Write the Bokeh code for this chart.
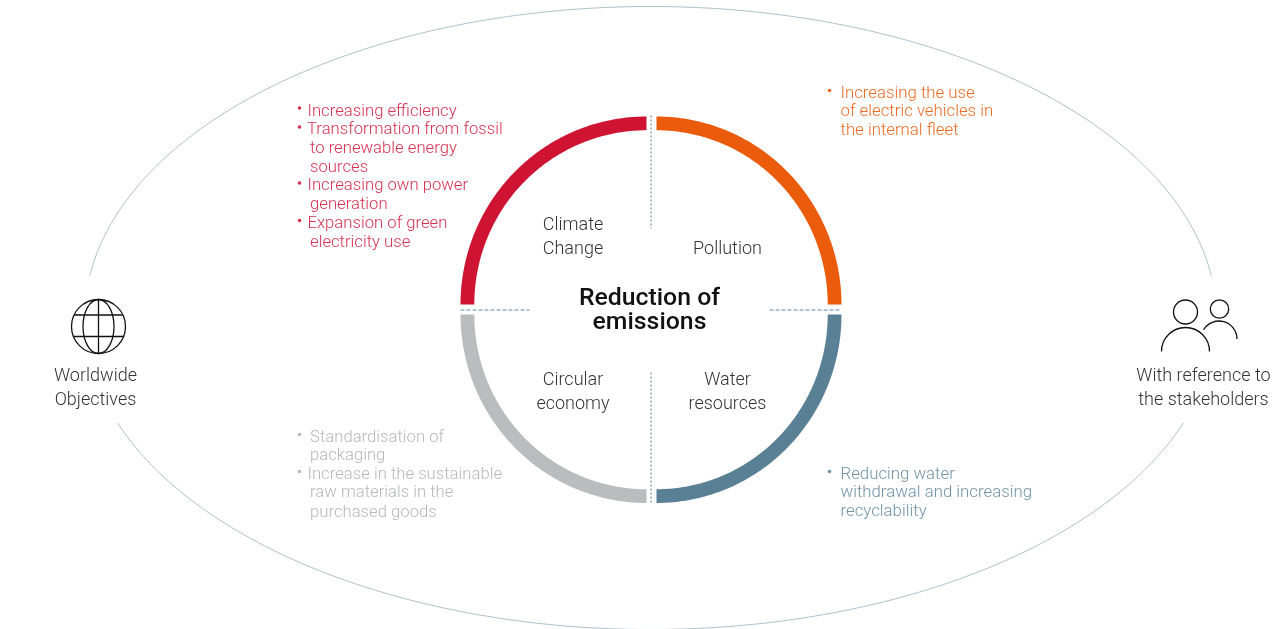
import numpy as np
from bokeh.plotting import figure
from bokeh.embed import file_html
from bokeh.resources import INLINE
from bokeh.core.properties import value

W, H = 1285, 629
FONT = "Roboto Light"
DARK = "#333333"

# Diagram content
title_lines = ["Reduction of", "emissions"]
side_left = ["Worldwide", "Objectives"]
side_right = ["With reference to", "the stakeholders"]
climate_label = ["Climate", "Change"]
pollution_label = ["Pollution"]
circular_label = ["Circular", "economy"]
water_label = ["Water", "resources"]

climate_items = ["Increasing efficiency", "Transformation from fossil", "to renewable energy", "sources",
                 "Increasing own power", "generation", "Expansion of green", "electricity use"]
pollution_items = ["Increasing the use", "of electric vehicles in", "the internal fleet"]
circular_items = ["Standardisation of", "packaging", "Increase in the sustainable",
                  "raw materials in the", "purchased goods"]
water_items = ["Reducing water", "withdrawal and increasing", "recyclability"]

# Layout (pixel coordinates, y measured from the top)
climate_x = [307, 306.5, 309.5, 309.5, 307, 309.5, 307, 309.5]
climate_y = [109.5, 128, 147, 165.5, 184, 203, 221.5, 240.5]
climate_bullets = [107.5, 126.5, 182.5, 220]
pollution_x = [840, 840, 840]
pollution_y = [91.5, 109.5, 128.5]
pollution_bullets = [90]
circular_x = [309.5, 309.5, 307, 309.5, 309.5]
circular_y = [435.5, 453.5, 472.5, 490.5, 510.5]
circular_bullets = [434, 471]
water_x = [840, 840, 840]
water_y = [472.5, 490.5, 509.5]
water_bullets = [471]

RED, ORANGE, GREY, BLUE = "#cf1433", "#ea5b0c", "#bbbcbd", "#5a8096"
RED_T, ORANGE_T, GREY_T, BLUE_T = "#d8304f", "#ec6a22", "#b6b7b8", "#6f92a6"
DASH = "#6389a0"
ELLIPSE = "#a9c0cb"


def Y(v):
    return H - np.asarray(v, dtype=float)


p = figure(width=W, height=H, x_range=(0, W), y_range=(0, H), toolbar_location=None,
           output_backend="svg", min_border=0, outline_line_color=None, x_axis_type=None,
           y_axis_type=None, background_fill_color="white", border_fill_color="white")
p.grid.visible = False
p.styles = {"position": "fixed", "left": "0px", "top": "0px"}

# Outer ellipse, two arcs
cx, cy, a, b = 650.0, 317.5, 566.0, 311.5
def ell(t0, t1):
    t = np.radians(np.linspace(t0, t1, 400))
    return cx + a * np.cos(t), Y(cy - b * np.sin(t))
for t0, t1 in [(7.8, 172.2), (-19.7, -160.3)]:
    xs, ys = ell(t0, t1)
    p.line(xs, ys, line_color=ELLIPSE, line_width=1)

# Ring: four quarter bands, slightly taller than wide as in the source artwork
BAND = 13.8
quarters = [(646, 304, 186.0, 188.0, 90, 180, RED), (656, 304, 185.0, 188.0, 0, 90, ORANGE),
            (646, 314, 186.0, 188.5, 180, 270, GREY), (656, 314, 185.0, 188.5, 270, 360, BLUE)]
for qx, qy, rx, ry, a0, a1, col in quarters:
    t = np.radians(np.linspace(a0, a1, 120))
    ox, oy = qx + rx * np.cos(t), qy - ry * np.sin(t)
    ix, iy = qx + (rx - BAND) * np.cos(t[::-1]), qy - (ry - BAND) * np.sin(t[::-1])
    p.patch(np.r_[ox, ix], Y(np.r_[oy, iy]), fill_color=col, line_color=None)

# Dashed dividers
for xs, ys, dash in [((650.5, 650.5), (115, 228), "2 2"), ((650.5, 650.5), (372, 503), "2 2"),
                     ((460, 529), (309.5, 309.5), "4 2"), ((769, 841), (309.5, 309.5), "4 2")]:
    p.line(list(xs), Y(ys), line_color=DASH, line_width=1.1, line_dash=dash)


def txt(x, y, lines, color, size="16.7px", align="left", font=FONT, style="normal"):
    p.text(x, Y(y), text=lines, text_color=color, text_font=value(font), text_font_size=size,
           text_align=align, text_baseline="middle", text_font_style=style)


def bullets(x, ys, color):
    p.scatter([x] * len(ys), Y(ys), size=3.6, marker="circle", fill_color=color, line_color=None)


txt(climate_x, climate_y, climate_items, RED_T)
bullets(299, climate_bullets, RED_T)
txt(pollution_x, pollution_y, pollution_items, ORANGE_T, size="16.8px")
bullets(829, pollution_bullets, ORANGE_T)
txt(circular_x, circular_y, circular_items, GREY_T)
bullets(299, circular_bullets, GREY_T)
txt(water_x, water_y, water_items, BLUE_T, size="16.8px")
bullets(829, water_bullets, BLUE_T)

txt([572.5, 572.5], [222.5, 246.5], climate_label, DARK, size="18px", align="center")
txt([727], [246.5], pollution_label, DARK, size="18px", align="center")
txt([572.5, 572.5], [377.5, 401.5], circular_label, DARK, size="18px", align="center")
txt([727, 727], [377.5, 401.5], water_label, DARK, size="18px", align="center")
txt([649, 649], [296, 320], title_lines, "#111111", size="24.8px", align="center", font="Roboto Medium")
txt([95, 95], [373.5, 397.5], side_left, DARK, size="18px", align="center")
txt([1203, 1203], [373.5, 397.5], side_right, DARK, size="18px", align="center")

# Globe icon
IC = "#111111"
gx, gy, gr = 98.0, 326.0, 27.0
p.circle([gx], Y([gy]), radius=gr, fill_color=None, line_color=IC, line_width=1.3)
p.ellipse([gx], Y([gy]), width=31, height=2 * gr, fill_color=None, line_color=IC, line_width=1.3)
p.line([gx, gx], Y([gy - gr, gy + gr]), line_color=IC, line_width=1.3)
for ly in (314.5, 336):
    half = np.sqrt(gr ** 2 - (ly - gy) ** 2)
    p.line([gx - half, gx + half], Y([ly, ly]), line_color=IC, line_width=1.3)

# People icon
p.circle([1185], Y([311.5]), radius=12, fill_color=None, line_color=IC, line_width=1.3)
p.arc([1185], Y([351]), radius=24, start_angle=0, end_angle=np.pi, line_color=IC, line_width=1.3)
p.circle([1219], Y([308.5]), radius=9.2, fill_color=None, line_color=IC, line_width=1.3)
p.arc([1218.5], Y([338.5]), radius=18, start_angle=0, end_angle=np.radians(149), line_color=IC, line_width=1.3)

open("out.html", "w").write(file_html(p, INLINE))
